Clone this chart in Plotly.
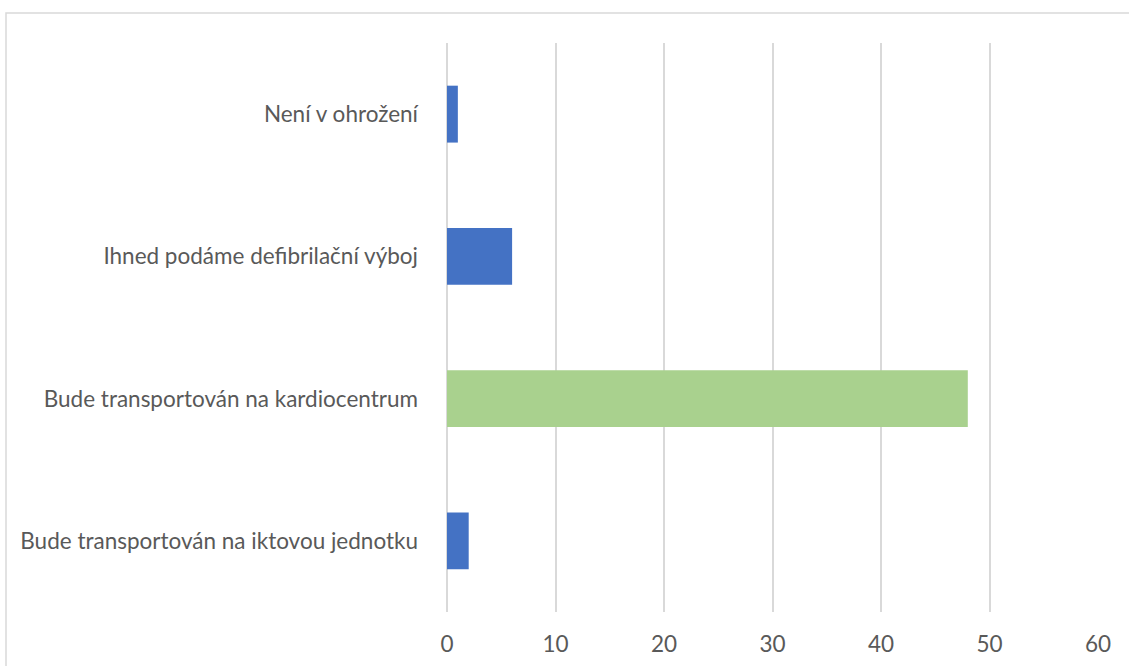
import plotly.graph_objects as go

categories = ["Bude transportován na iktovou jednotku",
              "Bude transportován na kardiocentrum",
              "Ihned podáme defibrilační výboj",
              "Není v ohrožení"]
values = [2, 48, 6, 1]
colors = ["#4472C4", "#A9D18E", "#4472C4", "#4472C4"]
x_ticks = [0, 10, 20, 30, 40, 50, 60]

W, H = 1129, 666
L, R, T, B = 447, 31, 43, 54
pw, ph = W - L - R, H - T - B

fig = go.Figure(go.Bar(
    y=categories, x=values, orientation="h",
    marker=dict(color=colors, line=dict(width=0)),
    width=0.4,
))

fig.update_layout(
    width=W, height=H,
    margin=dict(l=L, r=R, t=T, b=B, pad=0),
    paper_bgcolor="white", plot_bgcolor="white",
    font=dict(family="Lato, Calibri, sans-serif", size=22.5, color="#595959"),
    showlegend=False,
    xaxis=dict(range=[0, 60], tickvals=x_ticks, showgrid=True, gridcolor="#D9D9D9",
               gridwidth=1.5, zeroline=True, zerolinecolor="#D9D9D9", zerolinewidth=1.5,
               showline=False, ticks="", ticklabelstandoff=16, fixedrange=True,
               automargin=False),
    yaxis=dict(categoryorder="array", categoryarray=categories, showgrid=False,
               zeroline=False, showline=False, ticks="", ticklabelstandoff=28,
               range=[-0.5, 3.5], automargin=False, fixedrange=True),
    shapes=[dict(type="rect", xref="paper", yref="paper",
                 x0=(6 - L) / pw, x1=(W + 5 - L) / pw,
                 y0=(H - (H + 5) - B) / ph, y1=(H - 13 - B) / ph,
                 line=dict(color="#D9D9D9", width=1.5), fillcolor="rgba(0,0,0,0)",
                 layer="below")],
)

fig.write_html("out.html", config={"displayModeBar": False},
               post_script="document.body.style.margin='0px';document.body.style.overflow='hidden';")
